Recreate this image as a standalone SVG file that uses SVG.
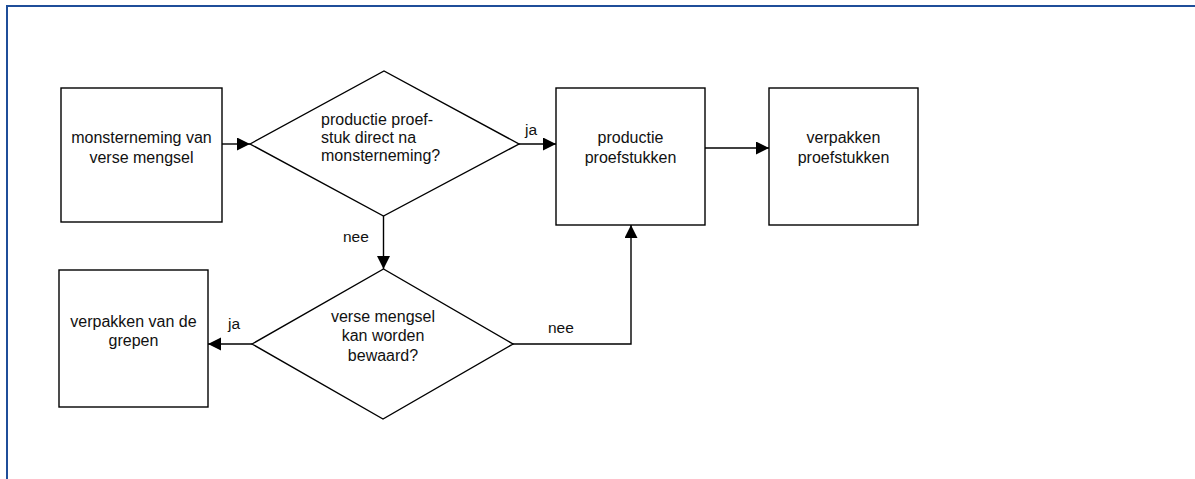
<svg xmlns="http://www.w3.org/2000/svg" width="1195" height="479" viewBox="0 0 1195 479">
<defs>
<style>
.frame{fill:none;stroke:#1f4e99;stroke-width:2}
.shape{fill:#fff;stroke:#000;stroke-width:1.4}
.conn{fill:none;stroke:#000;stroke-width:1.4}
text{font-family:"Liberation Sans",Arial,sans-serif;font-size:16px;fill:#111}
.c{text-anchor:middle}
.lbl{font-size:15.5px}
</style>
<marker id="arr" markerUnits="userSpaceOnUse" markerWidth="14" markerHeight="14" refX="13" refY="6.5" orient="auto">
<path d="M0,0 L13,6.5 L0,13 z" fill="#000"/>
</marker>
</defs>
<rect width="1195" height="479" fill="#fff"/>
<rect class="frame" x="7" y="6" width="1250" height="520"/>

<g id="connectors">
<line class="conn" x1="222" y1="144" x2="250" y2="144" marker-end="url(#arr)"/>
<line class="conn" x1="519" y1="144" x2="556" y2="144" marker-end="url(#arr)"/>
<line class="conn" x1="705" y1="148" x2="769" y2="148" marker-end="url(#arr)"/>
<line class="conn" x1="383.5" y1="216" x2="383.5" y2="269" marker-end="url(#arr)"/>
<line class="conn" x1="252" y1="344" x2="208" y2="344" marker-end="url(#arr)"/>
<polyline class="conn" points="513,344 631,344 631,225" marker-end="url(#arr)"/>
<text class="lbl" x="525" y="135">ja</text>
<text class="lbl" x="343" y="242">nee</text>
<text class="lbl" x="228" y="329">ja</text>
<text class="lbl" x="548" y="333">nee</text>
</g>

<g id="n1">
<rect class="shape" x="61" y="88" width="161" height="134"/>
<text class="c" x="141.5" y="143">monsterneming van</text>
<text class="c" x="141.5" y="163">verse mengsel</text>
</g>

<g id="d1">
<polygon class="shape" points="250,144 384,71 519,144 383.5,216"/>
<text x="321" y="125">productie proef-</text>
<text x="321" y="143">stuk direct na</text>
<text x="321" y="161">monsterneming?</text>
</g>

<g id="n2">
<rect class="shape" x="556" y="88" width="149" height="137"/>
<text class="c" x="630.5" y="143">productie</text>
<text class="c" x="630.5" y="163">proefstukken</text>
</g>

<g id="n3">
<rect class="shape" x="769" y="88" width="149" height="137"/>
<text class="c" x="843.5" y="143">verpakken</text>
<text class="c" x="843.5" y="163">proefstukken</text>
</g>

<g id="d2">
<polygon class="shape" points="252,344 383.5,269 513,344 383,419"/>
<text class="c" x="383" y="321.5">verse mengsel</text>
<text class="c" x="383" y="341">kan worden</text>
<text class="c" x="383" y="360.5">bewaard?</text>
</g>

<g id="n4">
<rect class="shape" x="59" y="270" width="149" height="137"/>
<text class="c" x="133.5" y="326.5">verpakken van de</text>
<text class="c" x="133.5" y="345.5">grepen</text>
</g>
</svg>
